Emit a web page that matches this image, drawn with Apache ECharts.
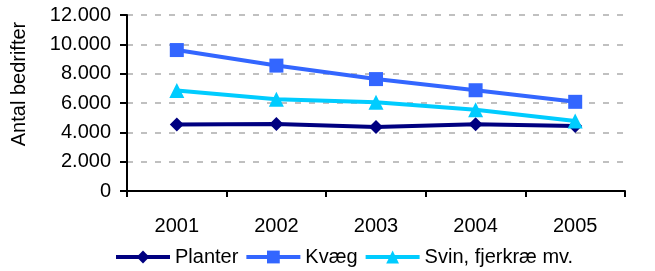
<!DOCTYPE html>
<html>
<head>
<meta charset="utf-8">
<script src="https://cdn.jsdelivr.net/npm/echarts@6/dist/echarts.min.js"></script>
<style>
  html, body { margin: 0; padding: 0; background: #fff; }
  #chart { width: 655px; height: 271px; }
</style>
</head>
<body>
<div id="chart"></div>
<script>
const years = ['2001', '2002', '2003', '2004', '2005'];
const planter = [4530, 4570, 4360, 4550, 4430];
const kvaeg = [9610, 8550, 7630, 6870, 6080];
const svin = [6850, 6260, 6050, 5540, 4780];

const fmt = v => String(v).replace(/\B(?=(\d{3})+(?!\d))/g, '.');

const chart = echarts.init(document.getElementById('chart'));
const font = 'Liberation Sans, Arial, sans-serif';

function serie(name, data, color, symbol, size) {
    return {
        name: name,
        type: 'line',
        data: data,
        symbol: symbol,
        symbolSize: size,
        lineStyle: { color: color, width: 4 },
        itemStyle: { color: color },
        animation: false
    };
}

chart.setOption({
    textStyle: { fontFamily: font },
    grid: { left: 127, right: 30, top: 15, bottom: 80 },
    legend: {
        top: 247,
        left: 114,
        padding: 0,
        itemWidth: 54,
        itemHeight: 16,
        itemGap: 6,
        lineStyle: { width: 4 },
        textStyle: { fontFamily: font, fontSize: 20, color: '#000' },
        data: ['Planter', 'Kvæg', 'Svin, fjerkræ mv.']
    },
    xAxis: {
        type: 'category',
        data: years,
        boundaryGap: true,
        axisLine: { lineStyle: { color: '#000', width: 2 } },
        axisTick: { show: true, length: 6, lineStyle: { color: '#000', width: 2 } },
        axisLabel: { color: '#000', fontSize: 20, margin: 25 }
    },
    yAxis: {
        type: 'value',
        min: 0,
        max: 12000,
        interval: 2000,
        name: 'Antal bedrifter',
        nameLocation: 'middle',
        nameGap: 98,
        nameRotate: 90,
        nameTextStyle: { color: '#000', fontSize: 20, padding: [0, 0, 0, 38] },
        axisLine: { show: true, lineStyle: { color: '#000', width: 2 } },
        axisTick: { show: true, length: 7, lineStyle: { color: '#000', width: 2 } },
        axisLabel: { color: '#000', fontSize: 20, margin: 16, formatter: fmt },
        splitLine: { lineStyle: { color: '#c0c0c0', width: 2, type: [6, 8] } }
    },
    series: [
        serie('Planter', planter, '#000080', 'diamond', 14),
        serie('Kvæg', kvaeg, '#3366ff', 'rect', 14),
        serie('Svin, fjerkræ mv.', svin, '#00ccff', 'triangle', 15)
    ]
});
</script>
</body>
</html>
